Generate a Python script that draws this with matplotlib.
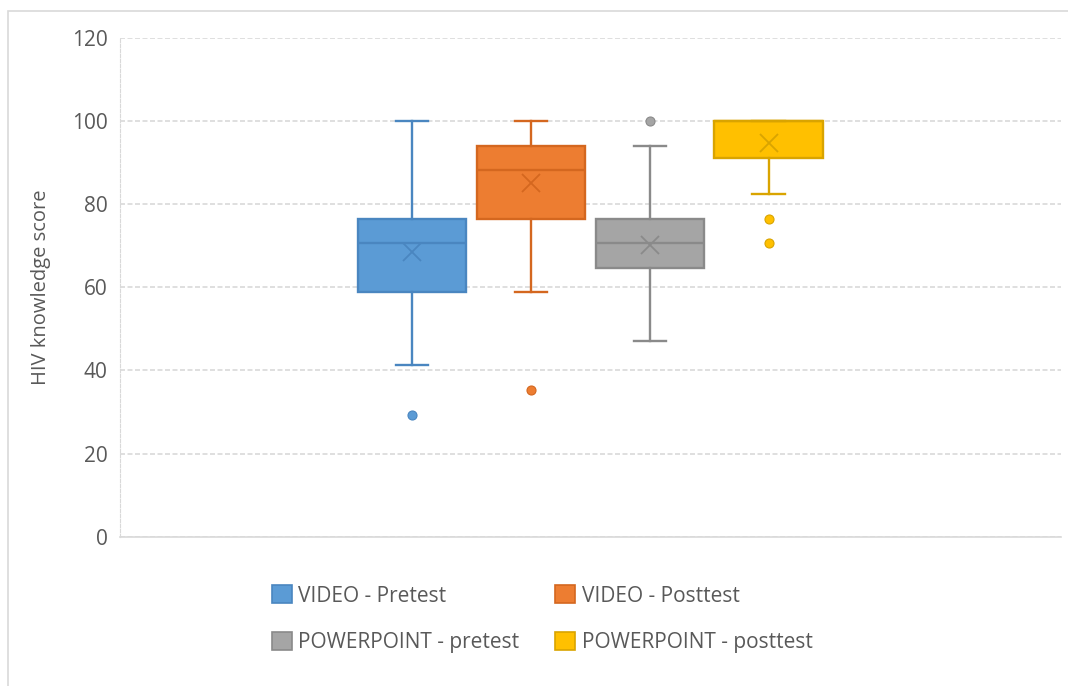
import matplotlib
matplotlib.use('Agg')
import matplotlib.pyplot as plt
from matplotlib.patches import Patch, Rectangle

# summary values (scores out of 17 items, in %)
labels = ['VIDEO - Pretest', 'VIDEO - Posttest', 'POWERPOINT - pretest', 'POWERPOINT - posttest']
q1 = [58.8, 76.5, 64.7, 91.2]
median = [70.6, 88.2, 70.6, 100.0]
q3 = [76.5, 94.1, 76.5, 100.0]
whislo = [41.2, 58.8, 47.1, 82.4]
whishi = [100.0, 100.0, 94.1, 100.0]
mean = [68.5, 85.1, 70.2, 94.8]
fliers = [[29.4], [35.3], [100.0], [76.5, 70.6]]

fills = ['#5B9BD5', '#ED7D31', '#A5A5A5', '#FFC000']
edges = ['#4A86C0', '#D4671F', '#8A8A8A', '#D9A400']

plt.rcParams['font.family'] = ['Open Sans', 'DejaVu Sans']

fig = plt.figure(figsize=(10.68, 6.86), dpi=100)
ax = fig.add_axes([120 / 1068, 1 - 536.7 / 686, (1060.7 - 120) / 1068, (536.7 - 38) / 686])

# chart frame
fig.patches.append(Rectangle((8 / 1068, -0.1), 1.2, 1 - 11 / 686 + 0.1, transform=fig.transFigure,
                             fill=False, edgecolor='#D9D9D9', lw=1.2, zorder=0))

positions = [1, 2, 3, 4]
for i in range(4):
    stats = [dict(med=median[i], q1=q1[i], q3=q3[i], whislo=whislo[i], whishi=whishi[i],
                  mean=mean[i], fliers=fliers[i])]
    ax.bxp(stats, positions=[positions[i]], widths=0.91, capwidths=0.27,
           showmeans=True, patch_artist=True,
           boxprops=dict(facecolor=fills[i], edgecolor=edges[i], lw=1.7),
           medianprops=dict(color=edges[i], lw=1.7),
           whiskerprops=dict(color=edges[i], lw=1.7),
           capprops=dict(color=edges[i], lw=1.7),
           meanprops=dict(marker='x', markeredgecolor=edges[i], markersize=13, markeredgewidth=1.3),
           flierprops=dict(marker='o', markerfacecolor=fills[i], markeredgecolor=edges[i],
                           markersize=6.5, markeredgewidth=0.8))

ax.set_xlim(2.5 - 3.96, 2.5 + 3.96)
ax.set_ylim(0, 120)
ax.set_yticks(range(0, 121, 20))
ax.set_xticks([])
ax.tick_params(axis='y', length=0, labelsize=15, labelcolor='#595959', pad=9)
ax.yaxis.grid(True, color='#D9D9D9', ls=(0, (3, 1.5)), lw=1.2)
ax.set_axisbelow(True)
for s in ['top', 'right']:
    ax.spines[s].set_visible(False)
ax.spines['left'].set_color('#D9D9D9')
ax.spines['left'].set_linestyle((0, (3, 1.5)))
ax.spines['bottom'].set_color('#D9D9D9')
ax.spines['bottom'].set_linewidth(1.2)
ax.set_ylabel('HIV knowledge score', fontsize=14.5, color='#595959', labelpad=15)

handles = [Patch(facecolor=fills[i], edgecolor=edges[i], lw=1.2) for i in range(4)]
order = [0, 2, 1, 3]
fig.legend([handles[i] for i in order], [labels[i] for i in order], ncol=2,
           loc='center left', bbox_to_anchor=(253 / 1068, 1 - 619 / 686), frameon=False,
           fontsize=15, labelcolor='#595959', handlelength=0.96, handleheight=0.96,
           handletextpad=0.3, columnspacing=1.74, labelspacing=1.2)

fig.savefig('out.png', dpi=100)
